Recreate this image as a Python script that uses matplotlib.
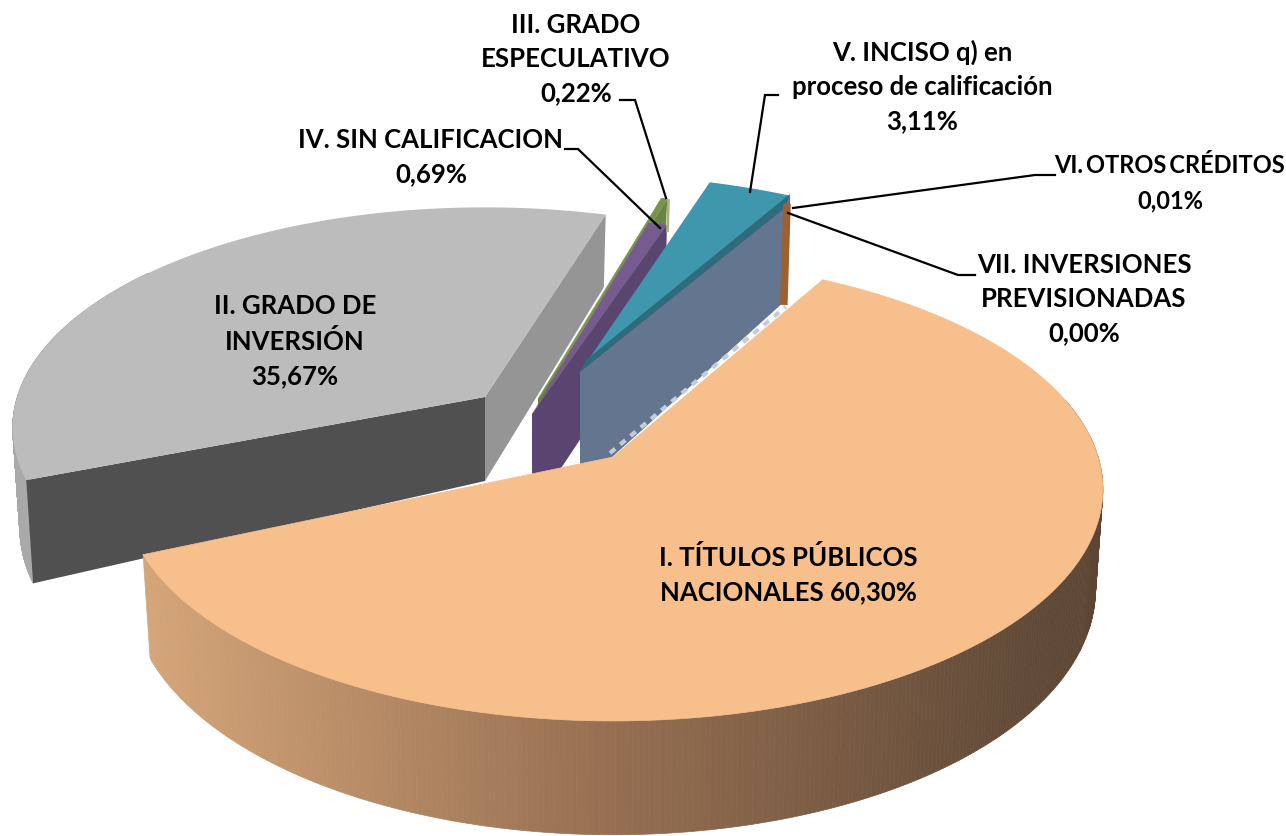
import numpy as np
import matplotlib.pyplot as plt
from matplotlib.collections import PolyCollection
from matplotlib.colors import LinearSegmentedColormap
from matplotlib.patches import Polygon

plt.rcParams["font.family"] = ["Lato", "DejaVu Sans"]

# clockwise from the top-right edge of the big slice
names = ["I", "II", "IV", "III", "V", "VI", "VII"]
values = [60.30, 35.67, 0.69, 0.22, 3.11, 0.01, 0.00]
label_names = {
    "I": "I. TÍTULOS PÚBLICOS\nNACIONALES ",
    "II": "II. GRADO DE\nINVERSIÓN\n",
    "III": "III. GRADO\nESPECULATIVO\n",
    "IV": "IV. SIN CALIFICACION\n",
    "V": "V. INCISO q) en\nproceso de calificación\n",
    "VI": "VI.\u2009OTROS\u2009CRÉDITOS\n",
    "VII": "VII. INVERSIONES\nPREVISIONADAS\n",
}

# layout, in pixels of the 1286x836 picture
START = 29.0
RX, RY, PERSP, DEPTH = 495.0, 225.0, 0.139, 98.0
apex = {"I": (613, 457), "II": (485, 397), "IV": (532, 414), "III": (538, 399),
        "V": (580, 372), "VI": (573, 379), "VII": (573, 379)}
rot = {"I": 0, "II": 2.5, "IV": 1, "III": -1.37, "V": -0.5, "VI": 0, "VII": 0}
scale_x = {"I": 0.98, "II": 0.945, "IV": 1, "III": 1.05, "V": 1, "VI": 1, "VII": 1}
scale_y = {"I": 1.01, "II": 0.96, "IV": 1, "III": 1.05, "V": 1, "VI": 1, "VII": 1}
top_col = {"I": "#f6bf8c", "II": "#bcbcbc", "IV": "#775a90", "III": "#7a9450",
           "V": "#3f97ae", "VI": "#b5723a", "VII": "#b5723a"}
wall_col = {"II": "#959595", "IV": "#5a4570", "III": "#6c8443", "V": "#647590"}
label_pos = {"I": (788, 575), "II": (295, 341), "III": (576, 59), "IV": (431, 157),
             "V": (922, 86), "VI": (1170, 183), "VII": (1084, 299)}
label_size = {"VI": 17}
leaders = {
    "IV": [(565, 149), (578, 149), (660, 228)],
    "III": [(620, 100), (635, 100), (666, 198)],
    "V": [(778, 95), (765, 95), (750, 192)],
    "VI": [(1055, 175), (1035, 175), (793, 208)],
    "VII": [(975, 275), (958, 275), (788, 213)],
}

rim_cmap = LinearSegmentedColormap.from_list(
    "rim", [(0.0, "#d4a578"), (0.49, "#966f52"), (0.92, "#624b38"), (1.0, "#5c4633")])


def project(t, name, level=0.0, extra=0.0):
    t = np.radians(t + rot[name])
    u, v = np.sin(t), -np.cos(t)
    w = 1 - PERSP * v
    ax0, ay0 = apex[name]
    xscale = 1 - 0.015 * level
    x = ax0 + scale_x[name] * RX * u / w * xscale
    y = ay0 + scale_y[name] * RY * v / w + level * (DEPTH / w + extra)
    return x, y


def sector_top(name, t0, t1):
    ts = np.linspace(t0, t1, 240)
    x, y = project(ts, name)
    return np.vstack([[apex[name]], np.column_stack([x, y])])


def rim_quads(name, t0, t1, n=300):
    ts = np.linspace(t0, t1, n)
    xa, ya = project(ts, name)
    xb, yb = project(ts, name, 1)
    quads = [[(xa[i], ya[i]), (xa[i + 1], ya[i + 1]), (xb[i + 1], yb[i + 1]), (xb[i], yb[i])]
             for i in range(n - 1)]
    return quads, xa[:-1]


def edge_wall(name, t, extra=0.0):
    x0, y0 = apex[name]
    x1, y1 = project(t, name)
    x2, y2 = project(t, name, 1, extra)
    return [(x0, y0), (x1, y1), (x2, y2), (x0, y0 + DEPTH + extra)]


fig = plt.figure(figsize=(12.86, 8.36), dpi=100)
ax = fig.add_axes([0, 0, 1, 1])
ax.set_xlim(0, 1286)
ax.set_ylim(836, 0)
ax.axis("off")

ends = START + np.cumsum(values) * 3.6
starts = ends - np.array(values) * 3.6
span = dict(zip(names, zip(starts, ends)))

# slice II
t0, t1 = span["II"]
quads, _ = rim_quads("II", t0, t0 + 60)
ax.add_collection(PolyCollection(quads, facecolors="#a9a9a9", edgecolors="#a9a9a9", linewidths=0.5))
x0, y0 = project(t0, "II")
x1, y1 = project(t0, "II", 1)
ax.add_patch(Polygon([apex["II"], (x0, y0), (x1, y1), (apex["II"][0], apex["II"][1] + 84)], fc="#505050", ec="none"))
ax.add_patch(Polygon(edge_wall("II", t1, -14), fc=wall_col["II"], ec="none"))
ax.add_patch(Polygon(sector_top("II", t0, t1), fc=top_col["II"], ec="none"))

# slice III sits behind IV
t0, t1 = span["III"]
xa, ya = project(t1, "III")
ax.add_patch(Polygon(edge_wall("III", t1, -57), fc=wall_col["III"], ec="none"))
ax.plot([xa + 1, xa], [ya, ya + 33], color="#a3b57f", lw=2, solid_capstyle="butt")
ax.add_patch(Polygon(sector_top("III", t0, t1), fc=top_col["III"], ec=top_col["III"], lw=0.5))

# slice IV
t0, t1 = span["IV"]
ax.add_patch(Polygon(edge_wall("IV", t1), fc=wall_col["IV"], ec="none"))
ax.add_patch(Polygon(sector_top("IV", t0, t1), fc=top_col["IV"], ec="none"))

# slice V, with the darker band along its front edge
t0, t1 = span["V"]
ax.add_patch(Polygon(edge_wall("V", t1, 16), fc=wall_col["V"], ec="none"))
ax.add_patch(Polygon(sector_top("V", t0, t1), fc=top_col["V"], ec="none"))
rx, ry = project(t1, "V")
ax0, ay0 = apex["V"]
ax.add_patch(Polygon([(ax0, ay0), (ax0 + 6, ay0 - 12), (rx, ry - 2), (rx - 5, ry + 12)], fc="#2f6a7d", ec="none"))

# slices VI and VII are a sliver on the outer edge
t0, t1 = span["VI"]
xa, ya = project(t1, "VI")
xb, yb = project(t1, "VI", 1, 14)
ax.plot([xa, xb], [ya, yb], color="#9c6130", lw=5.5, solid_capstyle="butt")

# slice I on top of everything
t0, t1 = span["I"]
mx0, my0 = project(t0, "I")
ax.plot([apex["I"][0] - 3, mx0 - 37], [apex["I"][1] - 4, my0 + 27], color="#c5ccd6", lw=3,
        linestyle=(0, (1.6, 1.6)))
quads, xs = rim_quads("I", 75, t1)
ax.add_collection(PolyCollection(quads, array=None, facecolors=rim_cmap((xs - 142) / 958),
                                 edgecolors=rim_cmap((xs - 142) / 958), linewidths=0.5))
ax.add_patch(Polygon(sector_top("I", t0, t1), fc=top_col["I"], ec=top_col["I"], lw=0.5))

for name, val in zip(names, values):
    s = label_names[name] + f"{val:.2f}%".replace(".", ",")
    x, y = label_pos[name]
    size = label_size.get(name, 18.5)
    ax.text(x, y, s, ha="center", va="center", fontsize=size, fontweight="bold",
            color="black", linespacing=1.5 * 18.5 / size)

for name, pts in leaders.items():
    xs_l, ys_l = zip(*pts)
    ax.plot(xs_l, ys_l, color="black", lw=1.6, solid_joinstyle="miter")

fig.savefig("out.png", dpi=100)
